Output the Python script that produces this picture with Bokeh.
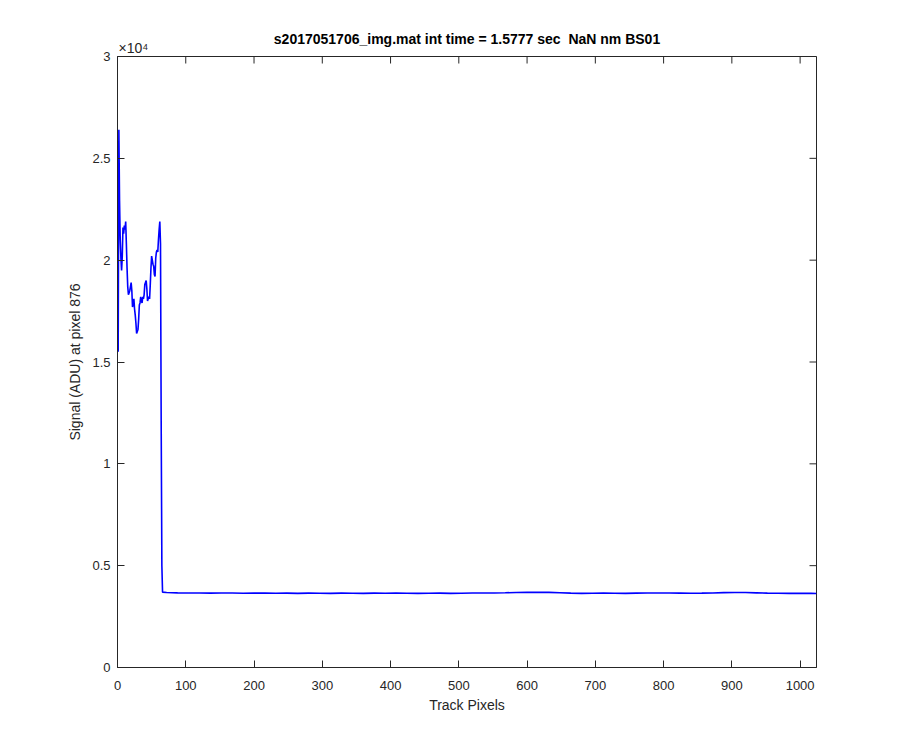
import math
from bokeh.plotting import figure
from bokeh.models import FixedTicker, Range1d, Title
from bokeh.embed import file_html
from bokeh.resources import INLINE

# ---- data ----
title_text = "s2017051706_img.mat int time = 1.5777 sec\u00a0 NaN nm BS01"
x_label = "Track Pixels"
y_label = "Signal (ADU) at pixel 876"
y_exponent_text = "×10\u2074"

x_start = list(range(1, 67))
y_start = [15500, 26400, 22900, 21000, 20100, 19500, 20200, 21600, 21300, 21700,
           21500, 21900, 20800, 19600, 18700, 18300, 18400, 18500, 18700, 18900,
           18500, 17700, 17900, 18100, 17600, 17300, 16900, 16400, 16500, 16600,
           17100, 17800, 17900, 18200, 18000, 17900, 18200, 18100, 18300, 18800,
           18900, 19000, 18600, 18000, 18100, 18200, 18100, 18800, 19600, 20200,
           20000, 19800, 19700, 19300, 19200, 20100, 20400, 20500, 20400, 21000,
           21500, 21900, 20800, 12000, 5000, 3700]

x_flat = list(range(72, 1017, 16)) + [1024]
y_flat = [3680, 3665, 3660, 3655, 3650, 3660, 3655, 3645, 3650, 3655,
          3645, 3650, 3640, 3650, 3645, 3640, 3650, 3645, 3640, 3650,
          3645, 3650, 3645, 3640, 3645, 3650, 3640, 3645, 3655, 3660,
          3660, 3670, 3685, 3690, 3695, 3690, 3670, 3650, 3640, 3645,
          3650, 3645, 3640, 3650, 3655, 3660, 3655, 3650, 3645, 3650,
          3660, 3675, 3685, 3680, 3665, 3650, 3645, 3640, 3645, 3640,
          3635]

x_ticks = [0, 100, 200, 300, 400, 500, 600, 700, 800, 900, 1000]
y_ticks = [0, 5000, 10000, 15000, 20000, 25000, 30000]
y_tick_labels = ["0", "0.5", "1", "1.5", "2", "2.5", "3"]
x_max = 1024
y_max = 30000

xs = x_start + x_flat
ys = y_start + y_flat

FONT = "Liberation Sans"
AX = "#262626"

p = figure(width=890, height=740, output_backend="svg", toolbar_location=None,
           x_range=Range1d(0, x_max), y_range=Range1d(0, y_max),
           min_border_left=117, min_border_right=74, min_border_top=56,
           min_border_bottom=73, background_fill_color="white",
           border_fill_color="white")
p.xgrid.visible = False
p.ygrid.visible = False
p.outline_line_color = AX
p.outline_line_width = 1

p.title.text = title_text
p.title.align = "center"
p.title.text_font = FONT
p.title.text_font_size = "14px"
p.title.text_font_style = "bold"
p.title.text_color = "black"
p.title.standoff = -18

# exponent note above the y axis, as a left-aligned title row hugging the frame
p.add_layout(Title(text=y_exponent_text, align="left", offset=1,
                   text_font=FONT, text_font_size="14px",
                   text_font_style="normal", text_color=AX, standoff=1),
             "above")

p.line(xs, ys, line_color="#0000FF", line_width=1.6)

# box ticks on top and right (MATLAB "box on"); the frame clips the outer half
p.scatter(x=x_ticks, y=[y_max] * len(x_ticks), marker="dash", size=14,
          angle=math.pi / 2, line_color=AX, line_width=1)
p.scatter(x=[x_max] * len(y_ticks), y=y_ticks, marker="dash", size=14,
          line_color=AX, line_width=1)

def style(ax, ticks):
    ax.ticker = FixedTicker(ticks=ticks)
    ax.major_tick_in = 7
    ax.major_tick_out = 0
    ax.minor_tick_in = 0
    ax.minor_tick_out = 0
    ax.axis_line_color = AX
    ax.major_tick_line_color = AX
    ax.major_label_text_font = FONT
    ax.major_label_text_font_size = "13px"
    ax.major_label_text_color = AX
    ax.axis_label_text_font = FONT
    ax.axis_label_text_font_size = "14px"
    ax.axis_label_text_font_style = "normal"
    ax.axis_label_text_color = AX

xa = p.xaxis[0]
style(xa, x_ticks)
xa.axis_label = x_label
xa.major_label_standoff = 13
xa.axis_label_standoff = 4

ya = p.yaxis[0]
style(ya, y_ticks)
ya.major_label_overrides = {t: l for t, l in zip(y_ticks, y_tick_labels)}
ya.axis_label = y_label
ya.major_label_standoff = 7
ya.axis_label_standoff = 6

open("out.html", "w").write(file_html(p, INLINE))
